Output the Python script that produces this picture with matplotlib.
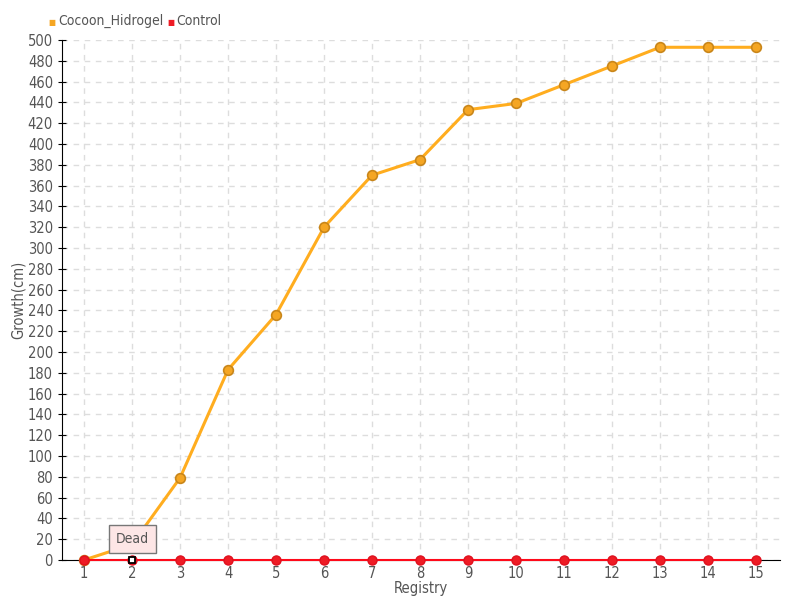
import matplotlib.pyplot as plt

registry = list(range(1, 16))
cocoon = [0, 15, 79, 183, 236, 320, 370, 385, 433, 439, 457, 475, 493, 493, 493]
control = [0] * 15
y_ticks = list(range(0, 501, 20))

plt.rcParams['font.family'] = ['DejaVu Sans']
plt.rcParams['font.stretch'] = 'condensed'
fig = plt.figure(figsize=(8, 6), dpi=100)
ax = fig.add_axes([62 / 800, 40 / 600, 718 / 800, 520 / 600])

ax.plot(registry, cocoon, color='#ffad1f', lw=2.2, marker='o', ms=7,
        mfc='#f5a623', mec='#c9861a', mew=1.2, zorder=3, clip_on=False)
ax.plot(registry, control, color='#ff0a1a', lw=1.5, marker='o', ms=6.5,
        mfc='#ee1c25', mec='#e0101e', zorder=4, clip_on=False)
ax.plot([registry[1]], [control[1]], marker='s', ms=4.5, mfc='white',
        mec='black', mew=1.3, zorder=6, clip_on=False)

ax.annotate('Dead', xy=(registry[1], control[1]), xytext=(0, 15),
            textcoords='offset points', ha='center', va='center',
            fontsize=10, color='#555555', zorder=7,
            bbox=dict(boxstyle='square,pad=0.5', fc='#fde6e6', ec='#777777', lw=1))

ax.set_xlim(0.54, 15.5)
ax.set_ylim(0, 500)
ax.set_xticks(registry)
ax.set_yticks(y_ticks)
ax.grid(True, color='#dddddd', ls=(0, (4, 4)), lw=1)
ax.set_axisbelow(True)
for s in ['top', 'right']:
    ax.spines[s].set_visible(False)
ax.spines['left'].set_color('black')
ax.spines['bottom'].set_color('black')
ax.tick_params(axis='both', direction='inout', length=6, colors='black',
               labelcolor='#555555', labelsize=10.5)
ax.tick_params(axis='x', pad=1)
ax.set_xlabel('Registry', color='#555555', fontsize=10.5, labelpad=0)
ax.set_ylabel('Growth(cm)', color='#555555', fontsize=10.5, labelpad=1)

fig.text(48 / 800, 1 - 22 / 600, '■', color='#f5a623', fontsize=6, va='center')
fig.text(58 / 800, 1 - 21 / 600, 'Cocoon_Hidrogel', color='#555555', fontsize=10, va='center')
fig.text(167 / 800, 1 - 22 / 600, '■', color='#ee1c25', fontsize=6, va='center')
fig.text(176 / 800, 1 - 21 / 600, 'Control', color='#555555', fontsize=10, va='center')

plt.savefig('out.png')
